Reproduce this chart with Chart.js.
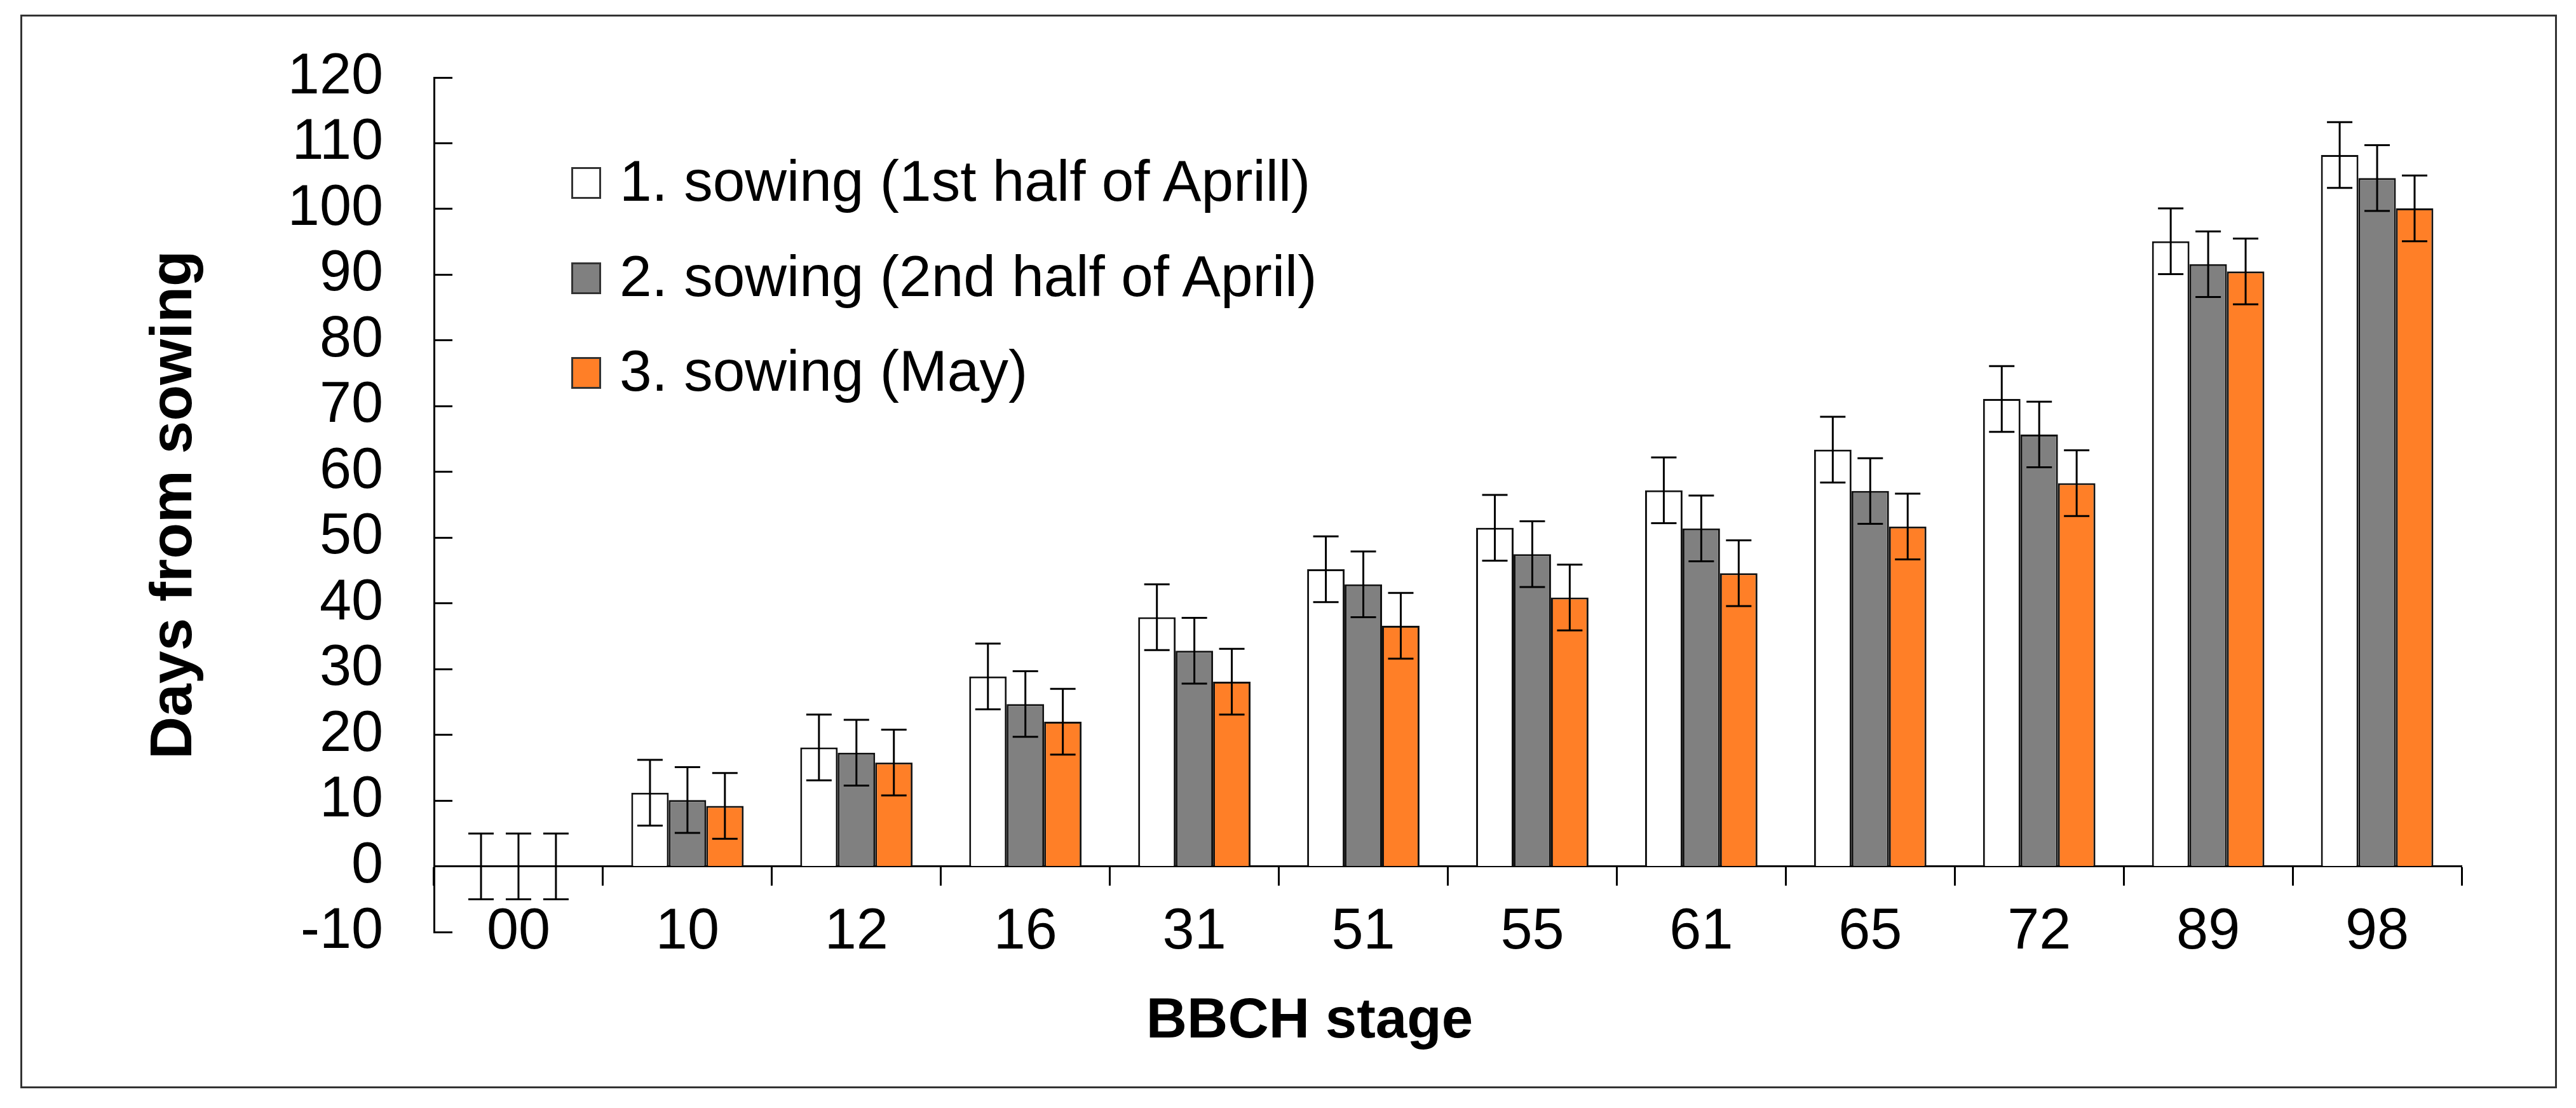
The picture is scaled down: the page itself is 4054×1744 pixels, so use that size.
<!DOCTYPE html>
<html>
<head>
<meta charset="utf-8">
<script src="https://cdn.jsdelivr.net/npm/chart.js@4.4.1/dist/chart.umd.min.js"></script>
<style>
  html, body { margin: 0; padding: 0; background: #fff; }
  #contenedor { position: relative; width: 4054px; height: 1744px; }
  #marco { position: absolute; left: 32px; top: 23px; width: 3986px; height: 1684px; border: 3px solid #333; pointer-events: none; }
  .caja { position: absolute; left: 899px; width: 41px; height: 44px; border: 3px solid #333; }
  .texto { position: absolute; left: 975px; font-family: "Liberation Sans", Arial, sans-serif; font-size: 91px; line-height: 91px; color: #000; white-space: nowrap; }
</style>
</head>
<body>
<div id="contenedor">
  <canvas id="miGrafico" width="4054" height="1744"></canvas>
  <div id="marco"></div>
  <div id="leyenda"></div>
</div>
<script>
// datos
var etapas = ['00', '10', '12', '16', '31', '51', '55', '61', '65', '72', '89', '98'];
var siembra1 = [0, 11.2, 18.1, 28.9, 37.9, 45.2, 51.5, 57.2, 63.4, 71.1, 95.1, 108.2];
var siembra2 = [0, 10.1, 17.3, 24.7, 32.8, 42.9, 47.5, 51.4, 57.1, 65.7, 91.6, 104.7];
var siembra3 = [0, 9.2, 15.8, 22.0, 28.1, 36.6, 40.9, 44.6, 51.7, 58.3, 90.5, 100.1];
var error1 = [5, 5, 5, 5, 5, 5, 5, 5, 5, 5, 5, 5];
var error2 = [5, 5, 5, 5, 5, 5, 5, 5, 5, 5, 5, 5];
var error3 = [5, 5, 5, 5, 5, 5, 5, 5, 5, 5, 5, 5];
var nombres = ['1. sowing (1st half of Aprill)', '2. sowing (2nd half of April)', '3. sowing (May)'];
var colores = ['#ffffff', '#808080', '#ff7f27'];
var errores = [error1, error2, error3];

Chart.defaults.font.family = '"Liberation Sans", Arial, sans-serif';
Chart.defaults.color = '#000';

// barras de error dibujadas con la escala y
var pluginErrores = {
    id: 'errores',
    afterDatasetsDraw: function(chart) {
        var ctx = chart.ctx;
        var escalaY = chart.scales.y;
        chart.data.datasets.forEach(function(ds, i) {
            var meta = chart.getDatasetMeta(i);
            meta.data.forEach(function(barra, j) {
                var v = ds.data[j];
                var e = errores[i][j];
                var arriba = escalaY.getPixelForValue(v + e);
                var abajo = escalaY.getPixelForValue(v - e);
                ctx.save();
                ctx.strokeStyle = '#000';
                ctx.lineWidth = 3;
                ctx.beginPath();
                ctx.moveTo(barra.x, arriba);
                ctx.lineTo(barra.x, abajo);
                ctx.moveTo(barra.x - 20, arriba);
                ctx.lineTo(barra.x + 20, arriba);
                ctx.moveTo(barra.x - 20, abajo);
                ctx.lineTo(barra.x + 20, abajo);
                ctx.stroke();
                ctx.restore();
            });
        });
    }
};

var series = [siembra1, siembra2, siembra3];
var datos = {
    labels: etapas,
    datasets: series.map(function(s, i) {
        return {
            label: nombres[i],
            data: s,
            backgroundColor: colores[i],
            borderColor: '#111',
            borderWidth: 3,
            barPercentage: 1,
            categoryPercentage: 0.665
        };
    })
};

var configuracion = {
    type: 'bar',
    data: datos,
    plugins: [pluginErrores],
    options: {
        responsive: false,
        devicePixelRatio: 1,
        animation: false,
        layout: { padding: { left: 248, right: 180, top: 122, bottom: 0 } },
        plugins: {
            legend: { display: false },
            tooltip: { enabled: false },
            title: {
                display: true,
                text: 'BBCH stage',
                position: 'bottom',
                color: '#000',
                font: { size: 89, weight: 'bold' },
                padding: { top: 88, bottom: 82 }
            }
        },
        scales: {
            x: {
                position: { y: 0 },
                offset: true,
                grid: {
                    offset: true,
                    drawOnChartArea: false,
                    drawTicks: true,
                    tickLength: 29,
                    tickWidth: 3,
                    tickColor: '#000'
                },
                border: { display: true, color: '#000', width: 3 },
                ticks: { font: { size: 90 }, padding: 21, color: '#000' }
            },
            y: {
                min: -10,
                max: 120,
                afterFit: function(escala) {
                    // ancho fijo del eje y sin relleno extra arriba/abajo
                    escala.width = 435;
                    escala.paddingTop = 0;
                    escala.paddingBottom = 0;
                },
                grid: {
                    drawOnChartArea: false,
                    drawTicks: true,
                    tickLength: -29,
                    tickWidth: 3,
                    tickColor: '#000'
                },
                border: { display: true, color: '#000', width: 3 },
                ticks: { stepSize: 10, autoSkip: false, font: { size: 90 }, padding: 109, color: '#000' },
                title: {
                    display: true,
                    text: 'Days from sowing',
                    color: '#000',
                    font: { size: 93, weight: 'bold' },
                    padding: { top: -28, bottom: 0 }
                }
            }
        }
    }
};

var miGrafico = new Chart(document.getElementById('miGrafico').getContext('2d'), configuracion);

// leyenda en html
var leyenda = document.getElementById('leyenda');
nombres.forEach(function(n, i) {
    var caja = document.createElement('div');
    caja.className = 'caja';
    caja.style.top = (263 + 149.5 * i) + 'px';
    caja.style.background = colores[i];
    leyenda.appendChild(caja);
    var texto = document.createElement('div');
    texto.className = 'texto';
    texto.style.top = (239 + 149.5 * i) + 'px';
    texto.textContent = n;
    leyenda.appendChild(texto);
});
</script>
</body>
</html>
